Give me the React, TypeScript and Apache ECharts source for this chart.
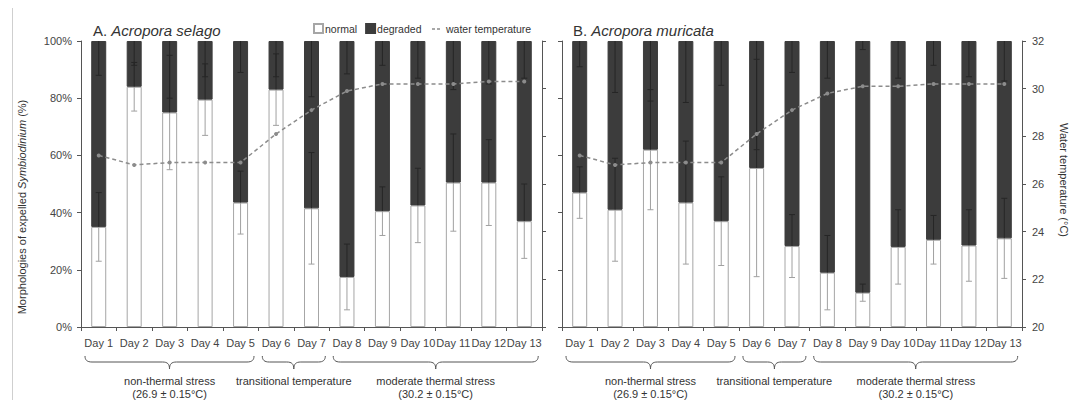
import React, { useEffect, useRef } from "react";
import * as echarts from "echarts";

const categories = ["Day 1", "Day 2", "Day 3", "Day 4", "Day 5", "Day 6", "Day 7", "Day 8", "Day 9", "Day 10", "Day 11", "Day 12", "Day 13"];

const normalA = [35, 84, 75, 79.5, 43.5, 83, 41.5, 17.5, 40.5, 42.5, 50.5, 50.5, 37];
const degradedA = [65, 16, 25, 20.5, 56.5, 17, 58.5, 82.5, 59.5, 57.5, 49.5, 49.5, 63];
const sdA = [12, 8.5, 20, 12.5, 11, 12.5, 19.5, 11.5, 8.5, 13, 17, 15, 13];
const tempA = [27.2, 26.8, 26.9, 26.9, 26.9, 28.1, 29.1, 29.9, 30.2, 30.2, 30.2, 30.3, 30.3];

const normalB = [47, 41, 62, 43.5, 37, 55.6, 28.3, 19, 12, 28, 30.5, 28.5, 31];
const degradedB = [53, 59, 38, 56.5, 63, 44.4, 71.7, 81, 88, 72, 69.5, 71.5, 69];
const sdB = [9, 18, 21, 21.5, 15.5, 38, 11, 13, 3, 13, 8.5, 12.5, 14];
const tempB = [27.2, 26.8, 26.9, 26.9, 26.9, 28.1, 29.1, 29.8, 30.1, 30.1, 30.2, 30.2, 30.2];

const pctTicks = { min: 0, max: 100, interval: 20 };
const tempTicks = { min: 20, max: 32, interval: 2 };

const groups = [
  { from: 0, to: 5, line1: "non-thermal stress", line2: "(26.9 ± 0.15°C)" },
  { from: 5, to: 7, line1: "transitional temperature", line2: "" },
  { from: 7, to: 13, line1: "moderate thermal stress", line2: "(30.2 ± 0.15°C)" },
];

const FONT = "'Liberation Sans', Arial, sans-serif";
const GRID_TOP = 41;
const GRID_BOTTOM_Y = 327;
const PANELS = [
  { left: 81, right: 542 },
  { left: 562, right: 1022 },
];

function bracePath(w: number) {
  const m = w / 2;
  return (
    `M0,0 C0,4 2,6 7,6 L${m - 7},6 C${m - 2},6 ${m},8 ${m},13 ` +
    `C${m},8 ${m + 2},6 ${m + 7},6 L${w - 7},6 C${w - 2},6 ${w},4 ${w},0`
  );
}

const registered: Record<string, boolean> = {};
function braceType(w: number) {
  const name = "brace" + Math.round(w);
  if (!registered[name]) {
    echarts.graphic.registerShape(name, echarts.graphic.extendPath(bracePath(Math.round(w)), {}) as any);
    registered[name] = true;
  }
  return name;
}

function errRender(params: any, api: any) {
  const x = api.value(0);
  const n = api.value(1);
  const sd = api.value(2);
  const p = api.coord([x, n]);
  const px = p[0];
  const pn = p[1];
  const lo = api.coord([x, Math.max(0, n - sd)])[1];
  const hiV = Math.min(100, n + sd);
  const hi = api.coord([x, hiV])[1];
  const top = api.coord([x, 100])[1];
  const dlo = api.coord([x, 100 - sd])[1];
  const c = 3;
  const light = { stroke: "#a0a0a0", lineWidth: 1 };
  const dark = { stroke: "#262626", lineWidth: 1 };
  const ch: any[] = [
    { type: "line", shape: { x1: px, y1: pn, x2: px, y2: lo }, style: light },
    { type: "line", shape: { x1: px - c, y1: lo, x2: px + c, y2: lo }, style: light },
    { type: "line", shape: { x1: px, y1: pn, x2: px, y2: hi }, style: dark },
    { type: "line", shape: { x1: px, y1: top, x2: px, y2: dlo }, style: dark },
    { type: "line", shape: { x1: px - c, y1: dlo, x2: px + c, y2: dlo }, style: dark },
  ];
  if (hiV < 100) ch.push({ type: "line", shape: { x1: px - c, y1: hi, x2: px + c, y2: hi }, style: dark });
  return { type: "group", children: ch };
}

export default function App() {
  const ref = useRef<HTMLDivElement>(null);
  useEffect(() => {
    if (!ref.current) return;
    const chart = echarts.init(ref.current, null, { renderer: "svg" });
    const axisLine = { show: true, lineStyle: { color: "#555", width: 1 } };
    const axisTick = { show: true, inside: false, length: 4, lineStyle: { color: "#555" } };
    const labelStyle = { color: "#444", fontSize: 11, fontFamily: FONT };

    const xAxes = PANELS.map((_, i) => ({
      type: "category",
      gridIndex: i,
      data: categories,
      axisLine,
      axisTick: { ...axisTick, alignWithLabel: false },
      axisLabel: { ...labelStyle, interval: 0, margin: 10 },
      splitLine: { show: false },
    }));

    const yAxes = [
      { type: "value", gridIndex: 0, position: "left", ...pctTicks, axisLine, axisTick, axisLabel: { ...labelStyle, margin: 9, formatter: "{value}%" }, splitLine: { show: false } },
      { type: "value", gridIndex: 0, position: "right", ...tempTicks, axisLine, axisTick, axisLabel: { show: false }, splitLine: { show: false } },
      { type: "value", gridIndex: 1, position: "left", ...pctTicks, axisLine, axisTick, axisLabel: { show: false }, splitLine: { show: false } },
      { type: "value", gridIndex: 1, position: "right", ...tempTicks, axisLine, axisTick, axisLabel: { ...labelStyle, margin: 10 }, splitLine: { show: false } },
    ];

    const panelsData = [
      { normal: normalA, degraded: degradedA, sd: sdA, temp: tempA },
      { normal: normalB, degraded: degradedB, sd: sdB, temp: tempB },
    ];
    const series: any[] = [];
    panelsData.forEach((pd, i) => {
      series.push({
        type: "bar",
        barWidth: 15,
        name: "normal",
        stack: "s" + i,
        xAxisIndex: i,
        yAxisIndex: i * 2,
        data: pd.normal,
        itemStyle: { color: "#ffffff", borderColor: "#a6a6a6", borderWidth: 1 },
      });
      series.push({
        type: "bar",
        barWidth: 15,
        name: "degraded",
        stack: "s" + i,
        xAxisIndex: i,
        yAxisIndex: i * 2,
        data: pd.degraded,
        itemStyle: { color: "#3c3c3c", borderColor: "#3c3c3c", borderWidth: 1 },
      });
      series.push({
        type: "custom",
        name: "error",
        xAxisIndex: i,
        yAxisIndex: i * 2,
        renderItem: errRender,
        data: categories.map((_, k) => [k, pd.normal[k], pd.sd[k]]),
        z: 5,
        silent: true,
      });
      series.push({
        type: "line",
        name: "water temperature",
        xAxisIndex: i,
        yAxisIndex: i * 2 + 1,
        data: pd.temp,
        symbol: "circle",
        symbolSize: 4,
        itemStyle: { color: "#8c8c8c" },
        lineStyle: { color: "#8c8c8c", width: 1.5, type: [4, 3] },
        z: 6,
      });
    });

    const graphic: any[] = [];
    graphic.push({ type: "line", shape: { x1: 12.5, y1: 8, x2: 12.5, y2: 400 }, style: { stroke: "#cfcfcf", lineWidth: 1 } });

    PANELS.forEach((p) => {
      const band = (p.right - p.left) / categories.length;
      groups.forEach((g) => {
        const x0 = p.left + g.from * band + 4;
        const x1 = p.left + g.to * band - 4;
        const w = x1 - x0;
        graphic.push({ type: braceType(w), x: x0, y: 356, style: { fill: "none", stroke: "#555", lineWidth: 1 } });
        const cx = x0 + w / 2;
        graphic.push({ type: "text", x: cx, y: 381, style: { text: g.line1, font: `11px ${FONT}`, fill: "#333", textAlign: "center", textVerticalAlign: "middle" } });
        if (g.line2)
          graphic.push({ type: "text", x: cx, y: 394, style: { text: g.line2, font: `11px ${FONT}`, fill: "#333", textAlign: "center", textVerticalAlign: "middle" } });
      });
    });

    const titles = [
      { x: 93, lead: "A. ", name: "Acropora selago" },
      { x: 573, lead: "B. ", name: "Acropora muricata" },
    ];
    titles.forEach((t) => {
      graphic.push({
        type: "text",
        x: t.x,
        y: 30,
        style: {
          text: `{a|${t.lead}}{b|${t.name}}`,
          textVerticalAlign: "middle",
          rich: {
            a: { fontSize: 15, fontFamily: FONT, fill: "#333" },
            b: { fontSize: 15, fontFamily: FONT, fill: "#333", fontStyle: "italic" },
          },
        },
      });
    });

    graphic.push({
      type: "text",
      x: 22,
      y: 207,
      rotation: Math.PI / 2,
      style: {
        text: "{n|Morphologies of expelled }{i|Symbiodinium}{n| (%)}",
        textAlign: "center",
        textVerticalAlign: "middle",
        rich: {
          n: { fontSize: 11, fontFamily: FONT, fill: "#333" },
          i: { fontSize: 11, fontFamily: FONT, fill: "#333", fontStyle: "italic" },
        },
      },
    });
    graphic.push({
      type: "text",
      x: 1064,
      y: 180,
      rotation: -Math.PI / 2,
      style: { text: "Water temperature (°C)", font: `11px ${FONT}`, fill: "#333", textAlign: "center", textVerticalAlign: "middle" },
    });

    graphic.push({ type: "line", shape: { x1: 432, y1: 29, x2: 442, y2: 29 }, style: { stroke: "#8c8c8c", lineWidth: 1.5, lineDash: [3, 2] } });
    graphic.push({ type: "text", x: 446, y: 29, style: { text: "water temperature", font: `10.5px ${FONT}`, fill: "#333", textVerticalAlign: "middle" } });

    chart.setOption({
      animation: false,
      backgroundColor: "#ffffff",
      textStyle: { fontFamily: FONT },
      grid: PANELS.map((p) => ({ left: p.left, width: p.right - p.left, top: GRID_TOP, height: GRID_BOTTOM_Y - GRID_TOP, containLabel: false })),
      xAxis: xAxes,
      yAxis: yAxes,
      legend: {
        data: ["normal", "degraded"],
        left: 308,
        top: 20,
        padding: [3, 5],
        itemWidth: 9,
        itemHeight: 9,
        itemGap: 8,
        icon: "rect",
        textStyle: { fontSize: 10.5, color: "#333", fontFamily: FONT, padding: [0, 0, 0, -3] },
      },
      series,
      graphic,
    });
    return () => chart.dispose();
  }, []);
  return <div ref={ref} style={{ position: "fixed", left: 0, top: 0, width: 1071, height: 400 }} />;
}
